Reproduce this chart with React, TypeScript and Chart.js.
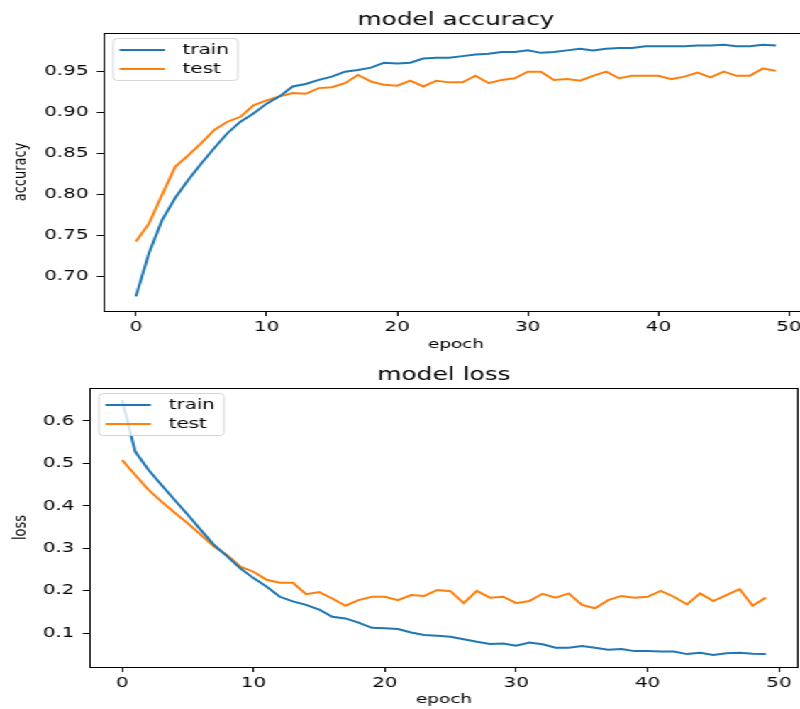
import React, { useEffect, useRef } from "react";
import { Chart, registerables } from "chart.js";

Chart.register(...registerables);

// ---- data ----
const epochs: number[] = Array.from({ length: 50 }, (_, i) => i);

const accTrain: number[] = [
  0.676, 0.729, 0.769, 0.796, 0.818, 0.838, 0.857, 0.875, 0.889, 0.899,
  0.911, 0.920, 0.932, 0.935, 0.940, 0.944, 0.950, 0.952, 0.955, 0.961,
  0.960, 0.961, 0.966, 0.967, 0.967, 0.969, 0.971, 0.972, 0.974, 0.974,
  0.976, 0.973, 0.974, 0.976, 0.978, 0.976, 0.978, 0.979, 0.979, 0.981,
  0.981, 0.981, 0.981, 0.982, 0.982, 0.983, 0.981, 0.981, 0.983, 0.982,
];
const accTest: number[] = [
  0.743, 0.765, 0.800, 0.834, 0.848, 0.863, 0.879, 0.889, 0.895, 0.909,
  0.915, 0.920, 0.924, 0.923, 0.930, 0.931, 0.936, 0.946, 0.938, 0.934,
  0.933, 0.939, 0.932, 0.939, 0.937, 0.937, 0.945, 0.936, 0.940, 0.942,
  0.950, 0.950, 0.940, 0.941, 0.939, 0.945, 0.950, 0.942, 0.945, 0.945,
  0.945, 0.941, 0.944, 0.949, 0.943, 0.950, 0.945, 0.945, 0.954, 0.951,
];
const lossTrain: number[] = [
  0.649, 0.528, 0.485, 0.449, 0.414, 0.379, 0.343, 0.308, 0.281, 0.253,
  0.230, 0.210, 0.186, 0.175, 0.167, 0.156, 0.139, 0.135, 0.125, 0.113,
  0.112, 0.110, 0.102, 0.096, 0.094, 0.092, 0.086, 0.080, 0.075, 0.076,
  0.071, 0.078, 0.074, 0.066, 0.066, 0.070, 0.066, 0.061, 0.063, 0.058,
  0.058, 0.057, 0.057, 0.051, 0.054, 0.049, 0.053, 0.054, 0.052, 0.051,
];
const lossTest: number[] = [
  0.508, 0.473, 0.438, 0.410, 0.384, 0.359, 0.332, 0.304, 0.284, 0.257,
  0.245, 0.226, 0.219, 0.219, 0.192, 0.197, 0.182, 0.165, 0.178, 0.186,
  0.186, 0.178, 0.190, 0.188, 0.202, 0.199, 0.171, 0.200, 0.184, 0.186,
  0.171, 0.176, 0.193, 0.184, 0.194, 0.167, 0.159, 0.178, 0.188, 0.184,
  0.186, 0.200, 0.186, 0.168, 0.194, 0.176, 0.190, 0.204, 0.165, 0.184,
];

const xTicks: number[] = [0, 10, 20, 30, 40, 50];
const accTicks: number[] = [0.7, 0.75, 0.8, 0.85, 0.9, 0.95];
const lossTicks: number[] = [0.1, 0.2, 0.3, 0.4, 0.5, 0.6];
const seriesLabels: string[] = ["train", "test"];
const seriesColors: string[] = ["#1f77b4", "#ff7f0e"];

const FONT = "'DejaVu Sans', sans-serif";
const SX = 800 / 564;

const frameLegendPlugin = {
  id: "frameLegend",
  afterDatasetsDraw(chart: any) {
    const { ctx, chartArea: a } = chart;
    ctx.save();
    ctx.strokeStyle = "#000";
    ctx.lineWidth = 1;
    ctx.strokeRect(
      Math.round(a.left) + 0.5,
      Math.round(a.top) + 0.5,
      Math.round(a.right - a.left),
      Math.round(a.bottom - a.top)
    );
    const bx = a.left + 6;
    const by = a.top + 5;
    const bw = 88;
    const bh = 42;
    ctx.beginPath();
    if ((ctx as any).roundRect) (ctx as any).roundRect(bx + 0.5, by + 0.5, bw, bh, 3);
    else ctx.rect(bx + 0.5, by + 0.5, bw, bh);
    ctx.fillStyle = "rgba(255,255,255,0.8)";
    ctx.fill();
    ctx.strokeStyle = "rgba(204,204,204,0.8)";
    ctx.lineWidth = 1;
    ctx.stroke();
    chart.data.datasets.forEach((ds: any, i: number) => {
      const y = by + 12 + i * 19;
      ctx.beginPath();
      ctx.strokeStyle = ds.borderColor;
      ctx.lineWidth = 2;
      ctx.moveTo(bx + 5, y);
      ctx.lineTo(bx + 37, y);
      ctx.stroke();
      ctx.fillStyle = "#000";
      ctx.font = `14px ${FONT}`;
      ctx.textBaseline = "middle";
      ctx.textAlign = "left";
      ctx.fillText(ds.label, bx + 49.5, y);
    });
    ctx.restore();
  },
};

function makeConfig(
  title: string,
  yLabel: string,
  train: number[],
  test: number[],
  yMin: number,
  yMax: number,
  yTicks: number[],
  decimals: number,
  yWidth: number,
  xHeight: number,
  padRight: number,
  xTitlePadBottom: number
): any {
  const sets = [train, test];
  return {
    type: "line",
    data: {
      datasets: sets.map((vals, i) => ({
        label: seriesLabels[i],
        data: epochs.map((e, k) => ({ x: e, y: vals[k] })),
        borderColor: seriesColors[i],
        backgroundColor: seriesColors[i],
        borderWidth: 2,
        pointRadius: 0,
        tension: 0,
        fill: false,
      })),
    },
    options: {
      animation: false,
      responsive: false,
      devicePixelRatio: 1,
      layout: { padding: { left: 0, right: padRight, top: 0, bottom: 0 } },
      plugins: {
        legend: { display: false },
        tooltip: { enabled: false },
        title: {
          display: true,
          text: title,
          fullSize: false,
          color: "#000",
          font: { family: FONT, size: 17.5, weight: "normal" },
          padding: { top: 10, bottom: 2 },
        },
      },
      scales: {
        x: {
          type: "linear",
          min: -2.45,
          max: 51.45,
          afterBuildTicks: (s: any) => {
            s.ticks = xTicks.map((v) => ({ value: v }));
          },
          afterFit: (s: any) => {
            s.height = xHeight;
          },
          grid: {
            display: true,
            drawOnChartArea: false,
            drawTicks: true,
            tickLength: 5,
            color: "#000",
          },
          border: { display: false },
          ticks: {
            padding: 2.5,
            color: "#000",
            font: { family: FONT, size: 14 },
            maxRotation: 0,
            callback: (v: any) => String(v),
          },
          title: {
            display: true,
            text: "epoch",
            color: "#000",
            font: { family: FONT, size: 13 },
            padding: { top: 0, bottom: xTitlePadBottom },
          },
        },
        y: {
          type: "linear",
          min: yMin,
          max: yMax,
          afterBuildTicks: (s: any) => {
            s.ticks = yTicks.map((v) => ({ value: v }));
          },
          afterFit: (s: any) => {
            s.width = yWidth;
          },
          grid: {
            display: true,
            drawOnChartArea: false,
            drawTicks: true,
            tickLength: 5,
            color: "#000",
          },
          border: { display: false },
          ticks: {
            padding: 6,
            color: "#000",
            font: { family: FONT, size: 14 },
            callback: (v: any) => Number(v).toFixed(decimals),
          },
          title: {
            display: true,
            text: yLabel,
            color: "#000",
            font: { family: FONT, size: 13 },
            padding: { top: 6.5, bottom: 0 },
          },
        },
      },
    },
    plugins: [frameLegendPlugin],
  };
}

export default function App() {
  const topRef = useRef<HTMLCanvasElement | null>(null);
  const botRef = useRef<HTMLCanvasElement | null>(null);

  useEffect(() => {
    document.body.style.margin = "0";
    const c1 = new Chart(
      topRef.current as HTMLCanvasElement,
      makeConfig("model accuracy", "accuracy", accTrain, accTest, 0.6582, 0.9972, accTicks, 2, 73.3, 44, 590 - 569.6, 3)
    );
    const c2 = new Chart(
      botRef.current as HTMLCanvasElement,
      makeConfig("model loss", "loss", lossTrain, lossTest, 0.0206, 0.6777, lossTicks, 1, 63.4, 42, 564 - 562.6, 2)
    );
    return () => {
      c1.destroy();
      c2.destroy();
    };
  }, []);

  return (
    <div
      style={{
        position: "absolute",
        left: 0,
        top: 0,
        width: 800,
        height: 709,
        overflow: "hidden",
        background: "#fff",
      }}
    >
      <div
        style={{
          position: "absolute",
          left: 0,
          top: 0,
          width: 564,
          height: 709,
          transform: `scaleX(${SX})`,
          transformOrigin: "0 0",
        }}
      >
        <canvas
          ref={topRef}
          width={590}
          height={355}
          style={{ position: "absolute", left: 0, top: 0, width: 590, height: 355 }}
        />
        <canvas
          ref={botRef}
          width={564}
          height={354}
          style={{ position: "absolute", left: 0, top: 355, width: 564, height: 354 }}
        />
      </div>
    </div>
  );
}
